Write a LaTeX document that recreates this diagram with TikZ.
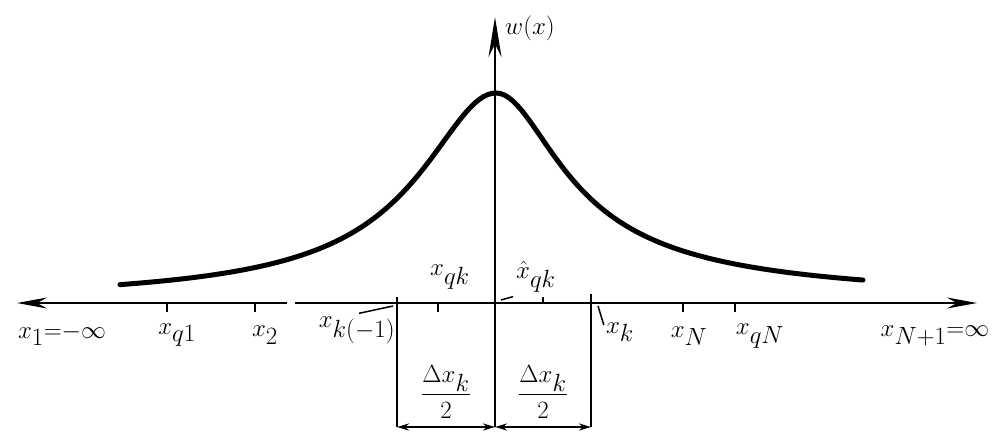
\documentclass[tikz,border=0pt]{standalone}
\usepackage{amsmath}
\usepackage{amssymb}
\usepackage{tikz}
\usetikzlibrary{arrows.meta}
\newcommand{\lsub}[1]{_{\textstyle #1}}
\begin{document}
\begin{tikzpicture}[x=1pt,y=-1pt]
\tikzstyle{lab}=[inner sep=0pt, font=\fontsize{24}{28}\selectfont]
\tikzstyle{ax}=[line width=2.5pt]
\tikzstyle{tck}=[line width=2pt]
\tikzstyle{lead}=[line width=1.5pt]
\useasboundingbox (0,0) rectangle (999,433);
%axes
\coordinate (l) at (17,303);
\coordinate (g1) at (287,303);
\coordinate (g2) at (295,303);
\coordinate (r) at (977,303);
\coordinate (top) at (495,17);
\coordinate (o) at (495,303);
\coordinate (bot) at (495,427);
\draw[ax,-{Stealth[length=30pt,width=11pt]}] (g1) -- (l);
\draw[ax,-{Stealth[length=30pt,width=11pt]}] (g2) -- (r);
\draw[ax,-{Stealth[length=40pt,width=13pt]}] (bot) -- (top);
%curve
\draw[line width=5pt, line cap=round, line join=round]
  plot[domain=120:496, samples=90] (\x, {303-210/(1+((\x-496)/84)^2)^0.8})
  -- plot[domain=496:863, samples=90] (\x, {303-210/(1+((\x-496)/68)^2)^0.65});
%box
\coordinate (bl) at (397,297);
\coordinate (br) at (591,294);
\coordinate (bbl) at (397,427);
\coordinate (bbr) at (591,427);
\draw[ax] (bl) -- (bbl);
\draw[ax] (br) -- (bbr);
\draw[ax,{Stealth[length=12pt,width=7pt]}-{Stealth[length=12pt,width=7pt]}] (bbl) -- (bot);
\draw[ax,{Stealth[length=12pt,width=7pt]}-{Stealth[length=12pt,width=7pt]}] (bot) -- (bbr);
%ticks
\foreach \t in {167,255,438,683,735}
  \draw[tck] (\t,303) -- (\t,312);
\draw[tck] (543,303) -- (543,297);
%labels
\node[lab] (x1) at (62,335) {$x\lsub{1}{=}{-}\infty$};
\node[lab] (xq1) at (177,335) {$x\lsub{q1}$};
\node[lab] (x2) at (265,335) {$x\lsub{2}$};
\node[lab] (xkm) at (357,330) {$x\lsub{k({-}1)}$};
\node[lab] (xqk) at (450,277) {$x\lsub{qk}$};
\node[lab] (xhqk) at (536,277) {$\hat{x}\lsub{qk}$};
\node[lab] (xk) at (620,332) {$x\lsub{k}$};
\node[lab] (xN) at (689,336) {$x\lsub{N}$};
\node[lab] (xqN) at (760,336) {$x\lsub{qN}$};
\node[lab] (xN1) at (935,336) {$x\lsub{N{+}1}{=}\infty$};
\node[lab, anchor=west] (w) at (505,28) {$w(x)$};
\node[lab] (dl) at (446,392) {$\dfrac{\Delta x\lsub{k}}{2}$};
\node[lab] (dr) at (543,392) {$\dfrac{\Delta x\lsub{k}}{2}$};
%leaders
\draw[lead] ([xshift=2pt,yshift=3pt]xkm.north) -- ([shift={(-4,9)}]bl);
\draw[lead] ([shift={(6,-3)}]o) -- ([shift={(-3,4)}]xhqk.south west);
\draw[lead] ([shift={(7,12)}]br) -- ([shift={(-2,3)}]xk.north west);
\end{tikzpicture}
\end{document}
